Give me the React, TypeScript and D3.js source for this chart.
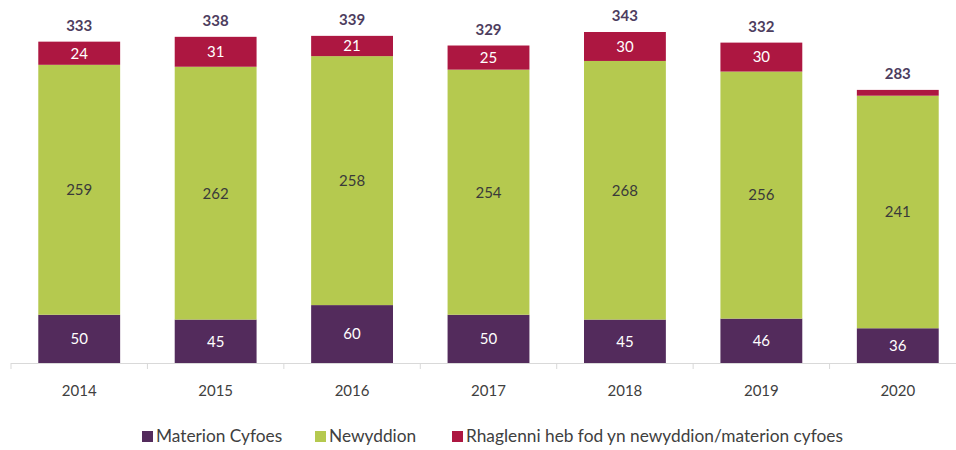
import React from "react";
import * as d3 from "d3";

const years = ["2014", "2015", "2016", "2017", "2018", "2019", "2020"];
const materion = [50, 45, 60, 50, 45, 46, 36];
const newyddion = [259, 262, 258, 254, 268, 256, 241];
const rhaglenni = [24, 31, 21, 25, 30, 30, 6];
const totals = [333, 338, 339, 329, 343, 332, 283];
const seriesNames = ["Materion Cyfoes", "Newyddion", "Rhaglenni heb fod yn newyddion/materion cyfoes"];
const colors = ["#532b5c", "#b5c94f", "#ad1741"];
const labelColors = ["#ffffff", "#3a3a3a", "#ffffff"];

export default function App() {
  const W = 956, H = 450;
  const baseY = 363;
  const x = d3.scaleBand<string>().domain(years).range([11, 966]).paddingInner(0.4).paddingOuter(0.2);
  const y = d3.scaleLinear().domain([0, 343]).range([baseY, 32]);
  const rows = years.map((yr, i) => ({ year: yr, s0: materion[i], s1: newyddion[i], s2: rhaglenni[i] }));
  const stack = d3.stack<any>().keys(["s0", "s1", "s2"])(rows);
  const font = "Lato, 'Open Sans', sans-serif";
  const step = x.step();
  const tickXs = d3.range(years.length + 1).map(i => 11 + i * step);
  const legendItems = [
    { x: 142, label: seriesNames[0], color: colors[0] },
    { x: 315, label: seriesNames[1], color: colors[1] },
    { x: 452, label: seriesNames[2], color: colors[2] },
  ];
  return (
    <svg width={W} height={H} style={{ position: "absolute", left: 0, top: 0, background: "#fff" }} fontFamily={font}>
      {stack.map((layer, li) =>
        layer.map((d, i) => {
          const bx = x(years[i])!;
          const y0 = y(d[0]), y1 = y(d[1]);
          const v = d[1] - d[0];
          const showLabel = !(li === 2 && i === 6);
          return (
            <g key={`${li}-${i}`}>
              <rect x={bx} y={y1} width={x.bandwidth()} height={y0 - y1} fill={colors[li]} />
              {showLabel && (
                <text x={bx + x.bandwidth() / 2} y={(y0 + y1) / 2} dy="0.36em" textAnchor="middle" fontSize={15} fill={labelColors[li]}>
                  {v}
                </text>
              )}
            </g>
          );
        })
      )}
      {years.map((yr, i) => (
        <text key={yr} x={x(yr)! + x.bandwidth() / 2} y={y(totals[i]) - 11} textAnchor="middle" fontSize={15} fontWeight="bold" fill="#4d3d5e">
          {totals[i]}
        </text>
      ))}
      <line x1={11} x2={956} y1={baseY + 0.5} y2={baseY + 0.5} stroke="#d9d9d9" strokeWidth={1} />
      {tickXs.map((tx, i) => (
        <line key={i} x1={tx} x2={tx} y1={baseY} y2={baseY + 6} stroke="#d9d9d9" />
      ))}
      {years.map(yr => (
        <text key={"l" + yr} x={x(yr)! + x.bandwidth() / 2} y={396} textAnchor="middle" fontSize={15} fill="#404040">
          {yr}
        </text>
      ))}
      {legendItems.map(it => (
        <g key={it.label}>
          <rect x={it.x} y={431} width={11} height={11} fill={it.color} />
          <text x={it.x + 14} y={442} fontSize={17.3} fill="#404040">{it.label}</text>
        </g>
      ))}
    </svg>
  );
}
